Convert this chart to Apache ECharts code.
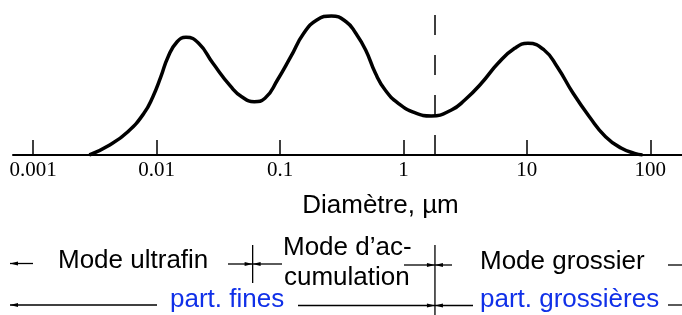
<!DOCTYPE html>
<html>
<head>
<meta charset="utf-8">
<script src="https://cdn.jsdelivr.net/npm/echarts@6.0.0/dist/echarts.min.js"></script>
<style>
    html, body { margin: 0; padding: 0; background: #fff; }
    #chart { width: 682px; height: 315px; }
</style>
</head>
<body>
<div id="chart"></div>
<script>
// diamètre (µm) et concentration relative
var diameters = [0.00285, 0.00417, 0.00585, 0.00789, 0.00933, 0.01083, 0.0124, 0.01466, 0.0173, 0.0219,
    0.0286, 0.04, 0.0489, 0.0618, 0.0755, 0.0953, 0.1222, 0.1556, 0.1986, 0.2606,
    0.343, 0.411, 0.494, 0.593, 0.711, 0.908, 1.235, 1.685, 2.447, 3.14,
    4.28, 5.84, 7.96, 10.2, 13.8, 17.6, 23.7, 32.1, 43.4, 58.5, 74.5, 86.5];
var concentrations = [0, 10, 23.3, 41.7, 58.3, 78.3, 98.3, 113.3, 117.7, 111.7,
    91.7, 68.3, 58.3, 53.3, 56.7, 75, 98.3, 121.7, 135, 139,
    133.3, 121.7, 105, 81.7, 65, 51.7, 42.3, 39, 45, 55,
    71.7, 91.7, 106.7, 111.7, 105, 88.3, 61.7, 38.3, 18.3, 6.7, 1.7, 0];
var tickValues = [0.001, 0.01, 0.1, 1, 10, 100];
var tickLabels = ['0.001', '0.01', '0.1', '1', '10', '100'];
// limites entre modes (µm)
var modeLimits = [0.06, 1.8];

var curveData = diameters.map(function (d, i) {
    return [d, concentrations[i]];
});

var myChart = echarts.init(document.getElementById('chart'));
var option = {
    animation: false,
    backgroundColor: '#fff',
    grid: {
        left: 13,
        right: 0,
        top: 5,
        bottom: 160
    },
    xAxis: {
        type: 'log',
        min: 0.000686,
        max: 180.7,
        name: 'Diamètre, µm',
        nameLocation: 'middle',
        nameGap: 38,
        nameTextStyle: {
            fontFamily: 'Liberation Sans',
            fontSize: 26,
            color: '#000',
            padding: [0, 0, 0, 66]
        },
        axisLine: {
            lineStyle: { color: '#000', width: 2 }
        },
        axisTick: {
            inside: true,
            length: 15,
            customValues: tickValues,
            lineStyle: { color: '#000', width: 1.5 }
        },
        axisLabel: {
            customValues: tickValues,
            margin: 5,
            fontFamily: 'Liberation Serif',
            fontSize: 21,
            color: '#000',
            formatter: function (v) {
                var i = tickValues.indexOf(v);
                return i >= 0 ? tickLabels[i] : '';
            }
        },
        splitLine: { show: false }
    },
    yAxis: {
        type: 'value',
        min: 0,
        max: 150,
        show: false
    },
    series: [{
        type: 'line',
        data: curveData,
        smooth: 0.5,
        showSymbol: false,
        lineStyle: { color: '#000', width: 3.5 },
        markLine: {
            silent: true,
            symbol: 'none',
            label: { show: false },
            lineStyle: { color: '#000', width: 1.5, type: [20, 20] },
            data: [[
                { coord: [modeLimits[1], 140] },
                { coord: [modeLimits[1], 0] }
            ]]
        }
    }]
};
myChart.setOption(option);

// annotations sous l'axe
function arrowSeg(x1, x2, y, head) {
    var tip = head === 'start' ? x1 : x2;
    var dir = head === 'start' ? 1 : -1;
    return {
        type: 'group',
        children: [{
            type: 'line',
            shape: { x1: x1, y1: y, x2: x2, y2: y },
            style: { stroke: '#000', lineWidth: 1.3 }
        }, {
            type: 'polygon',
            shape: { points: [[tip, y], [tip + dir * 8, y - 2], [tip + dir * 8, y + 2]] },
            style: { fill: '#000' }
        }]
    };
}
function label(text, x, y, color) {
    return {
        type: 'text',
        x: x,
        y: y,
        style: {
            text: text,
            fill: color || '#000',
            font: '26px "Liberation Sans"',
            verticalAlign: 'middle',
            align: 'left'
        }
    };
}
function vline(x, y1, y2) {
    return {
        type: 'line',
        shape: { x1: x, y1: y1, x2: x, y2: y2 },
        style: { stroke: '#000', lineWidth: 1.3 }
    };
}

var s1 = myChart.convertToPixel({ xAxisIndex: 0 }, modeLimits[0]);
var s2 = myChart.convertToPixel({ xAxisIndex: 0 }, modeLimits[1]);
var blue = '#1030e8';

myChart.setOption({
    graphic: [
        arrowSeg(10, 33, 263.5, 'start'),
        label('Mode ultrafin', 58, 261),
        arrowSeg(228, s1, 264, 'end'),
        arrowSeg(s1, 282, 264, 'start'),
        vline(s1, 245, 283),
        label('Mode d\u2019ac-', 283, 248),
        label('cumulation', 284, 278),
        arrowSeg(404, s2, 265, 'end'),
        arrowSeg(s2, 452, 265, 'start'),
        vline(s2, 245, 315),
        label('Mode grossier', 480, 262),
        arrowSeg(668, 695, 265, 'end'),
        arrowSeg(10, 157, 305, 'start'),
        label('part. fines', 170, 300, blue),
        arrowSeg(298, s2, 305.5, 'end'),
        arrowSeg(s2, 473, 305.5, 'start'),
        label('part. grossières', 480, 300, blue),
        arrowSeg(668, 695, 305, 'end')
    ]
});
</script>
</body>
</html>
